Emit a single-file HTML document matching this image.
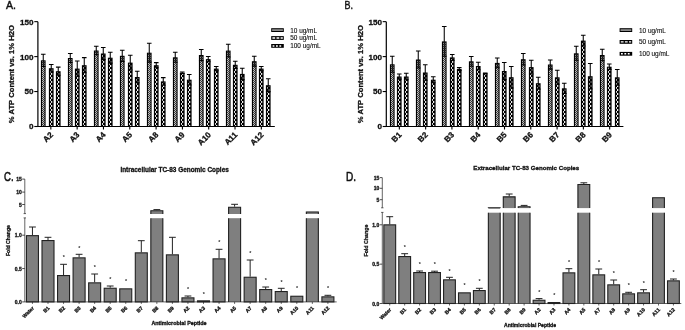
<!DOCTYPE html>
<html><head><meta charset="utf-8"><title>Figure</title>
<style>html,body{margin:0;padding:0;background:#fff}svg{display:block;filter:blur(0.35px)}text{font-family:'Liberation Sans', Arial, sans-serif;fill:#111}text[font-weight=bold]{stroke:#111;stroke-width:0.3px}</style>
</head><body>
<svg width="685" height="330" viewBox="0 0 685 330">
<defs>
<pattern id="pa" patternUnits="userSpaceOnUse" x="1.1" y="0.5" width="2" height="2"><rect width="2" height="2" fill="#3a3a3a"/><rect x="0" y="0" width="1" height="1" fill="#bdbdbd"/><rect x="1" y="1" width="1" height="1" fill="#bdbdbd"/></pattern>
<pattern id="pb" patternUnits="userSpaceOnUse" x="1.1" y="0.5" width="3" height="4"><rect width="3" height="4" fill="#000"/><rect x="0" y="0" width="1" height="1.9" fill="#e4e4e4"/><rect x="1" y="2" width="1.5" height="1.9" fill="#e4e4e4"/></pattern>
<pattern id="pc" patternUnits="userSpaceOnUse" x="1.1" y="0.5" width="3" height="4"><rect width="3" height="4" fill="#000"/><rect x="0" y="0" width="1" height="1.8" fill="#dcdcdc"/><rect x="1" y="2" width="1.5" height="2" fill="#f4f4f4"/></pattern>
</defs>
<rect width="685" height="330" fill="#fff"/>
<g transform="translate(40.9,126.5)"><rect x="0" y="-66.2" width="4.7" height="66.2" fill="#000"/><rect x="1.1" y="-65.2" width="2.5" height="65.2" fill="url(#pa)"/></g>
<path d="M43.25 54.2V66.4M40.95 54.2H45.55M40.95 66.4H45.55" stroke="#000" stroke-width="1.05" fill="none"/>
<g transform="translate(48.9,126.5)"><rect x="0" y="-58.3" width="4.7" height="58.3" fill="#000"/><rect x="1.1" y="-57.3" width="2.5" height="57.3" fill="url(#pb)"/></g>
<path d="M51.25 64.5V71.9M48.95 64.5H53.55M48.95 71.9H53.55" stroke="#000" stroke-width="1.05" fill="none"/>
<g transform="translate(55.9,126.5)"><rect x="0" y="-55.3" width="4.7" height="55.3" fill="#000"/><rect x="1.1" y="-54.3" width="2.5" height="54.3" fill="url(#pc)"/></g>
<path d="M58.25 67.1V75.3M55.95 67.1H60.55M55.95 75.3H60.55" stroke="#000" stroke-width="1.05" fill="none"/>
<g transform="translate(67.9,126.5)"><rect x="0" y="-68.5" width="4.7" height="68.5" fill="#000"/><rect x="1.1" y="-67.5" width="2.5" height="67.5" fill="url(#pa)"/></g>
<path d="M70.25 53.5V62.5M67.95 53.5H72.55M67.95 62.5H72.55" stroke="#000" stroke-width="1.05" fill="none"/>
<g transform="translate(74.9,126.5)"><rect x="0" y="-57.9" width="4.7" height="57.9" fill="#000"/><rect x="1.1" y="-56.9" width="2.5" height="56.9" fill="url(#pb)"/></g>
<path d="M77.25 61V76.2M74.95 61H79.55M74.95 76.2H79.55" stroke="#000" stroke-width="1.05" fill="none"/>
<g transform="translate(81.9,126.5)"><rect x="0" y="-61.3" width="4.7" height="61.3" fill="#000"/><rect x="1.1" y="-60.3" width="2.5" height="60.3" fill="url(#pc)"/></g>
<path d="M84.25 57.6V72.8M81.95 57.6H86.55M81.95 72.8H86.55" stroke="#000" stroke-width="1.05" fill="none"/>
<g transform="translate(93.9,126.5)"><rect x="0" y="-76" width="4.7" height="76" fill="#000"/><rect x="1.1" y="-75" width="2.5" height="75" fill="url(#pa)"/></g>
<path d="M96.25 46.2V54.8M93.95 46.2H98.55M93.95 54.8H98.55" stroke="#000" stroke-width="1.05" fill="none"/>
<g transform="translate(100.9,126.5)"><rect x="0" y="-73" width="4.7" height="73" fill="#000"/><rect x="1.1" y="-72" width="2.5" height="72" fill="url(#pb)"/></g>
<path d="M103.25 47.4V59.6M100.95 47.4H105.55M100.95 59.6H105.55" stroke="#000" stroke-width="1.05" fill="none"/>
<g transform="translate(107.9,126.5)"><rect x="0" y="-68.8" width="4.7" height="68.8" fill="#000"/><rect x="1.1" y="-67.8" width="2.5" height="67.8" fill="url(#pc)"/></g>
<path d="M110.25 52.3V63.1M107.95 52.3H112.55M107.95 63.1H112.55" stroke="#000" stroke-width="1.05" fill="none"/>
<g transform="translate(119.9,126.5)"><rect x="0" y="-70.7" width="4.7" height="70.7" fill="#000"/><rect x="1.1" y="-69.7" width="2.5" height="69.7" fill="url(#pa)"/></g>
<path d="M122.25 50.2V61.4M119.95 50.2H124.55M119.95 61.4H124.55" stroke="#000" stroke-width="1.05" fill="none"/>
<g transform="translate(127.9,126.5)"><rect x="0" y="-63.9" width="4.7" height="63.9" fill="#000"/><rect x="1.1" y="-62.9" width="2.5" height="62.9" fill="url(#pb)"/></g>
<path d="M130.25 55.3V69.9M127.95 55.3H132.55M127.95 69.9H132.55" stroke="#000" stroke-width="1.05" fill="none"/>
<g transform="translate(134.9,126.5)"><rect x="0" y="-49.5" width="4.7" height="49.5" fill="#000"/><rect x="1.1" y="-48.5" width="2.5" height="48.5" fill="url(#pc)"/></g>
<path d="M137.25 71.3V82.7M134.95 71.3H139.55M134.95 82.7H139.55" stroke="#000" stroke-width="1.05" fill="none"/>
<g transform="translate(146.9,126.5)"><rect x="0" y="-73.8" width="4.7" height="73.8" fill="#000"/><rect x="1.1" y="-72.8" width="2.5" height="72.8" fill="url(#pa)"/></g>
<path d="M149.25 43.3V62.1M146.95 43.3H151.55M146.95 62.1H151.55" stroke="#000" stroke-width="1.05" fill="none"/>
<g transform="translate(153.9,126.5)"><rect x="0" y="-61.3" width="4.7" height="61.3" fill="#000"/><rect x="1.1" y="-60.3" width="2.5" height="60.3" fill="url(#pb)"/></g>
<path d="M156.25 62.6V67.8M153.95 62.6H158.55M153.95 67.8H158.55" stroke="#000" stroke-width="1.05" fill="none"/>
<g transform="translate(160.9,126.5)"><rect x="0" y="-45.1" width="4.7" height="45.1" fill="#000"/><rect x="1.1" y="-44.1" width="2.5" height="44.1" fill="url(#pc)"/></g>
<path d="M163.25 77.6V85.2M160.95 77.6H165.55M160.95 85.2H165.55" stroke="#000" stroke-width="1.05" fill="none"/>
<g transform="translate(172.9,126.5)"><rect x="0" y="-69.2" width="4.7" height="69.2" fill="#000"/><rect x="1.1" y="-68.2" width="2.5" height="68.2" fill="url(#pa)"/></g>
<path d="M175.25 52.3V62.3M172.95 52.3H177.55M172.95 62.3H177.55" stroke="#000" stroke-width="1.05" fill="none"/>
<g transform="translate(179.9,126.5)"><rect x="0" y="-53.8" width="4.7" height="53.8" fill="#000"/><rect x="1.1" y="-52.8" width="2.5" height="52.8" fill="url(#pb)"/></g>
<path d="M182.25 71.9V73.5M179.95 71.9H184.55M179.95 73.5H184.55" stroke="#000" stroke-width="1.05" fill="none"/>
<g transform="translate(186.9,126.5)"><rect x="0" y="-46.8" width="4.7" height="46.8" fill="#000"/><rect x="1.1" y="-45.8" width="2.5" height="45.8" fill="url(#pc)"/></g>
<path d="M189.25 74.4V85M186.95 74.4H191.55M186.95 85H191.55" stroke="#000" stroke-width="1.05" fill="none"/>
<g transform="translate(198.9,126.5)"><rect x="0" y="-71.5" width="4.7" height="71.5" fill="#000"/><rect x="1.1" y="-70.5" width="2.5" height="70.5" fill="url(#pa)"/></g>
<path d="M201.25 49.4V60.6M198.95 49.4H203.55M198.95 60.6H203.55" stroke="#000" stroke-width="1.05" fill="none"/>
<g transform="translate(205.9,126.5)"><rect x="0" y="-67.4" width="4.7" height="67.4" fill="#000"/><rect x="1.1" y="-66.4" width="2.5" height="66.4" fill="url(#pb)"/></g>
<path d="M208.25 56.5V61.7M205.95 56.5H210.55M205.95 61.7H210.55" stroke="#000" stroke-width="1.05" fill="none"/>
<g transform="translate(213.9,126.5)"><rect x="0" y="-57.9" width="4.7" height="57.9" fill="#000"/><rect x="1.1" y="-56.9" width="2.5" height="56.9" fill="url(#pc)"/></g>
<path d="M216.25 66.4V70.8M213.95 66.4H218.55M213.95 70.8H218.55" stroke="#000" stroke-width="1.05" fill="none"/>
<g transform="translate(225.9,126.5)"><rect x="0" y="-75.9" width="4.7" height="75.9" fill="#000"/><rect x="1.1" y="-74.9" width="2.5" height="74.9" fill="url(#pa)"/></g>
<path d="M228.25 44.2V57M225.95 44.2H230.55M225.95 57H230.55" stroke="#000" stroke-width="1.05" fill="none"/>
<g transform="translate(232.9,126.5)"><rect x="0" y="-61.7" width="4.7" height="61.7" fill="#000"/><rect x="1.1" y="-60.7" width="2.5" height="60.7" fill="url(#pb)"/></g>
<path d="M235.25 61.2V68.4M232.95 61.2H237.55M232.95 68.4H237.55" stroke="#000" stroke-width="1.05" fill="none"/>
<g transform="translate(239.9,126.5)"><rect x="0" y="-52.6" width="4.7" height="52.6" fill="#000"/><rect x="1.1" y="-51.6" width="2.5" height="51.6" fill="url(#pc)"/></g>
<path d="M242.25 68.2V79.6M239.95 68.2H244.55M239.95 79.6H244.55" stroke="#000" stroke-width="1.05" fill="none"/>
<g transform="translate(251.9,126.5)"><rect x="0" y="-65.3" width="4.7" height="65.3" fill="#000"/><rect x="1.1" y="-64.3" width="2.5" height="64.3" fill="url(#pa)"/></g>
<path d="M254.25 56.3V66.1M251.95 56.3H256.55M251.95 66.1H256.55" stroke="#000" stroke-width="1.05" fill="none"/>
<g transform="translate(258.9,126.5)"><rect x="0" y="-57.9" width="4.7" height="57.9" fill="#000"/><rect x="1.1" y="-56.9" width="2.5" height="56.9" fill="url(#pb)"/></g>
<path d="M261.25 66.5V70.7M258.95 66.5H263.55M258.95 70.7H263.55" stroke="#000" stroke-width="1.05" fill="none"/>
<g transform="translate(265.9,126.5)"><rect x="0" y="-41.3" width="4.7" height="41.3" fill="#000"/><rect x="1.1" y="-40.3" width="2.5" height="40.3" fill="url(#pc)"/></g>
<path d="M268.25 78.8V91.6M265.95 78.8H270.55M265.95 91.6H270.55" stroke="#000" stroke-width="1.05" fill="none"/>
<path d="M37.9 21.65V126.5H274.8" stroke="#000" stroke-width="1.2" fill="none"/>
<path d="M34.3 126.5H37.9" stroke="#000" stroke-width="1.1"/>
<text x="33.6" y="129.4" text-anchor="end" font-size="8.1" font-weight="bold">0</text>
<path d="M34.3 91.55H37.9" stroke="#000" stroke-width="1.1"/>
<text x="33.6" y="94.45" text-anchor="end" font-size="8.1" font-weight="bold">50</text>
<path d="M34.3 56.6H37.9" stroke="#000" stroke-width="1.1"/>
<text x="33.6" y="59.5" text-anchor="end" font-size="8.1" font-weight="bold">100</text>
<path d="M34.3 21.65H37.9" stroke="#000" stroke-width="1.1"/>
<text x="33.6" y="24.55" text-anchor="end" font-size="8.1" font-weight="bold">150</text>
<path d="M50.85 126.5V129.5" stroke="#000" stroke-width="1.1"/>
<text transform="translate(53.65,135.4) rotate(-45)" text-anchor="end" font-size="8.1" font-weight="bold">A2</text>
<path d="M77.16 126.5V129.5" stroke="#000" stroke-width="1.1"/>
<text transform="translate(79.96,135.4) rotate(-45)" text-anchor="end" font-size="8.1" font-weight="bold">A3</text>
<path d="M103.47 126.5V129.5" stroke="#000" stroke-width="1.1"/>
<text transform="translate(106.27,135.4) rotate(-45)" text-anchor="end" font-size="8.1" font-weight="bold">A4</text>
<path d="M129.78 126.5V129.5" stroke="#000" stroke-width="1.1"/>
<text transform="translate(132.58,135.4) rotate(-45)" text-anchor="end" font-size="8.1" font-weight="bold">A5</text>
<path d="M156.09 126.5V129.5" stroke="#000" stroke-width="1.1"/>
<text transform="translate(158.89,135.4) rotate(-45)" text-anchor="end" font-size="8.1" font-weight="bold">A8</text>
<path d="M182.4 126.5V129.5" stroke="#000" stroke-width="1.1"/>
<text transform="translate(185.2,135.4) rotate(-45)" text-anchor="end" font-size="8.1" font-weight="bold">A9</text>
<path d="M208.71 126.5V129.5" stroke="#000" stroke-width="1.1"/>
<text transform="translate(211.51,135.4) rotate(-45)" text-anchor="end" font-size="8.1" font-weight="bold">A10</text>
<path d="M235.02 126.5V129.5" stroke="#000" stroke-width="1.1"/>
<text transform="translate(237.82,135.4) rotate(-45)" text-anchor="end" font-size="8.1" font-weight="bold">A11</text>
<path d="M261.33 126.5V129.5" stroke="#000" stroke-width="1.1"/>
<text transform="translate(264.13,135.4) rotate(-45)" text-anchor="end" font-size="8.1" font-weight="bold">A12</text>
<text transform="translate(14.2,74.1) rotate(-90)" text-anchor="middle" font-size="7.7" font-weight="bold" textLength="98.2" lengthAdjust="spacingAndGlyphs">% ATP Content vs. 1% H2O</text>
<rect x="271.2" y="28.2" width="12.6" height="3.8" fill="#000"/>
<rect x="272.1" y="29.2" width="10.8" height="1.8" fill="#8a8a8a"/>
<text x="290.2" y="32.5" font-size="6.45" stroke="#111" stroke-width="0.12">10 ug/mL</text>
<rect x="271.2" y="36.1" width="12.6" height="3.8" fill="#000"/>
<path d="M272.4 38H282.8" stroke="#fff" stroke-width="1.4" stroke-dasharray="2.8 1.3"/>
<text x="290.2" y="40.4" font-size="6.45" stroke="#111" stroke-width="0.12">50 ug/mL</text>
<rect x="271.2" y="44" width="12.6" height="3.8" fill="#000"/>
<path d="M272.6 45.9H282.8" stroke="#fff" stroke-width="1.5" stroke-dasharray="1.8 1.6"/>
<text x="290.2" y="48.3" font-size="6.45" stroke="#111" stroke-width="0.12">100 ug/mL</text>
<text transform="translate(6,8.8) scale(0.9,1)" font-size="11.8" stroke="#111" stroke-width="0.45">A.</text>
<g transform="translate(389.9,126.5)"><rect x="0" y="-62.2" width="4.7" height="62.2" fill="#000"/><rect x="1.1" y="-61.2" width="2.5" height="61.2" fill="url(#pa)"/></g>
<path d="M392.25 56.3V72.3M389.95 56.3H394.55M389.95 72.3H394.55" stroke="#000" stroke-width="1.05" fill="none"/>
<g transform="translate(396.9,126.5)"><rect x="0" y="-50" width="4.7" height="50" fill="#000"/><rect x="1.1" y="-49" width="2.5" height="49" fill="url(#pb)"/></g>
<path d="M399.25 73.9V79.1M396.95 73.9H401.55M396.95 79.1H401.55" stroke="#000" stroke-width="1.05" fill="none"/>
<g transform="translate(403.9,126.5)"><rect x="0" y="-50" width="4.7" height="50" fill="#000"/><rect x="1.1" y="-49" width="2.5" height="49" fill="url(#pc)"/></g>
<path d="M406.25 73.3V79.7M403.95 73.3H408.55M403.95 79.7H408.55" stroke="#000" stroke-width="1.05" fill="none"/>
<g transform="translate(415.9,126.5)"><rect x="0" y="-67" width="4.7" height="67" fill="#000"/><rect x="1.1" y="-66" width="2.5" height="66" fill="url(#pa)"/></g>
<path d="M418.25 51V68M415.95 51H420.55M415.95 68H420.55" stroke="#000" stroke-width="1.05" fill="none"/>
<g transform="translate(422.9,126.5)"><rect x="0" y="-54" width="4.7" height="54" fill="#000"/><rect x="1.1" y="-53" width="2.5" height="53" fill="url(#pb)"/></g>
<path d="M425.25 64.8V80.2M422.95 64.8H427.55M422.95 80.2H427.55" stroke="#000" stroke-width="1.05" fill="none"/>
<g transform="translate(430.9,126.5)"><rect x="0" y="-46.8" width="4.7" height="46.8" fill="#000"/><rect x="1.1" y="-45.8" width="2.5" height="45.8" fill="url(#pc)"/></g>
<path d="M433.25 76.7V82.7M430.95 76.7H435.55M430.95 82.7H435.55" stroke="#000" stroke-width="1.05" fill="none"/>
<g transform="translate(441.9,126.5)"><rect x="0" y="-85.1" width="4.7" height="85.1" fill="#000"/><rect x="1.1" y="-84.1" width="2.5" height="84.1" fill="url(#pa)"/></g>
<path d="M444.25 26.5V56.3M441.95 26.5H446.55M441.95 56.3H446.55" stroke="#000" stroke-width="1.05" fill="none"/>
<g transform="translate(449.9,126.5)"><rect x="0" y="-69.1" width="4.7" height="69.1" fill="#000"/><rect x="1.1" y="-68.1" width="2.5" height="68.1" fill="url(#pb)"/></g>
<path d="M452.25 54.4V60.4M449.95 54.4H454.55M449.95 60.4H454.55" stroke="#000" stroke-width="1.05" fill="none"/>
<g transform="translate(456.9,126.5)"><rect x="0" y="-57.5" width="4.7" height="57.5" fill="#000"/><rect x="1.1" y="-56.5" width="2.5" height="56.5" fill="url(#pc)"/></g>
<path d="M459.25 67.6V70.4M456.95 67.6H461.55M456.95 70.4H461.55" stroke="#000" stroke-width="1.05" fill="none"/>
<g transform="translate(468.9,126.5)"><rect x="0" y="-65.2" width="4.7" height="65.2" fill="#000"/><rect x="1.1" y="-64.2" width="2.5" height="64.2" fill="url(#pa)"/></g>
<path d="M471.25 56.4V66.2M468.95 56.4H473.55M468.95 66.2H473.55" stroke="#000" stroke-width="1.05" fill="none"/>
<g transform="translate(475.9,126.5)"><rect x="0" y="-60.5" width="4.7" height="60.5" fill="#000"/><rect x="1.1" y="-59.5" width="2.5" height="59.5" fill="url(#pb)"/></g>
<path d="M478.25 62.3V69.7M475.95 62.3H480.55M475.95 69.7H480.55" stroke="#000" stroke-width="1.05" fill="none"/>
<g transform="translate(482.9,126.5)"><rect x="0" y="-53.2" width="4.7" height="53.2" fill="#000"/><rect x="1.1" y="-52.2" width="2.5" height="52.2" fill="url(#pc)"/></g>
<path d="M485.25 72.9V73.7M482.95 72.9H487.55M482.95 73.7H487.55" stroke="#000" stroke-width="1.05" fill="none"/>
<g transform="translate(494.9,126.5)"><rect x="0" y="-63.6" width="4.7" height="63.6" fill="#000"/><rect x="1.1" y="-62.6" width="2.5" height="62.6" fill="url(#pa)"/></g>
<path d="M497.25 58V67.8M494.95 58H499.55M494.95 67.8H499.55" stroke="#000" stroke-width="1.05" fill="none"/>
<g transform="translate(501.9,126.5)"><rect x="0" y="-55.5" width="4.7" height="55.5" fill="#000"/><rect x="1.1" y="-54.5" width="2.5" height="54.5" fill="url(#pb)"/></g>
<path d="M504.25 62.4V79.6M501.95 62.4H506.55M501.95 79.6H506.55" stroke="#000" stroke-width="1.05" fill="none"/>
<g transform="translate(508.9,126.5)"><rect x="0" y="-49.3" width="4.7" height="49.3" fill="#000"/><rect x="1.1" y="-48.3" width="2.5" height="48.3" fill="url(#pc)"/></g>
<path d="M511.25 66.4V88M508.95 66.4H513.55M508.95 88H513.55" stroke="#000" stroke-width="1.05" fill="none"/>
<g transform="translate(520.9,126.5)"><rect x="0" y="-67.3" width="4.7" height="67.3" fill="#000"/><rect x="1.1" y="-66.3" width="2.5" height="66.3" fill="url(#pa)"/></g>
<path d="M523.25 53.5V64.9M520.95 53.5H525.55M520.95 64.9H525.55" stroke="#000" stroke-width="1.05" fill="none"/>
<g transform="translate(528.9,126.5)"><rect x="0" y="-59.4" width="4.7" height="59.4" fill="#000"/><rect x="1.1" y="-58.4" width="2.5" height="58.4" fill="url(#pb)"/></g>
<path d="M531.25 60.3V73.9M528.95 60.3H533.55M528.95 73.9H533.55" stroke="#000" stroke-width="1.05" fill="none"/>
<g transform="translate(535.9,126.5)"><rect x="0" y="-43.3" width="4.7" height="43.3" fill="#000"/><rect x="1.1" y="-42.3" width="2.5" height="42.3" fill="url(#pc)"/></g>
<path d="M538.25 77.3V89.1M535.95 77.3H540.55M535.95 89.1H540.55" stroke="#000" stroke-width="1.05" fill="none"/>
<g transform="translate(547.9,126.5)"><rect x="0" y="-62" width="4.7" height="62" fill="#000"/><rect x="1.1" y="-61" width="2.5" height="61" fill="url(#pa)"/></g>
<path d="M550.25 59.9V69.1M547.95 59.9H552.55M547.95 69.1H552.55" stroke="#000" stroke-width="1.05" fill="none"/>
<g transform="translate(554.9,126.5)"><rect x="0" y="-49.2" width="4.7" height="49.2" fill="#000"/><rect x="1.1" y="-48.2" width="2.5" height="48.2" fill="url(#pb)"/></g>
<path d="M557.25 70.3V84.3M554.95 70.3H559.55M554.95 84.3H559.55" stroke="#000" stroke-width="1.05" fill="none"/>
<g transform="translate(561.9,126.5)"><rect x="0" y="-38.2" width="4.7" height="38.2" fill="#000"/><rect x="1.1" y="-37.2" width="2.5" height="37.2" fill="url(#pc)"/></g>
<path d="M564.25 83.2V93.4M561.95 83.2H566.55M561.95 93.4H566.55" stroke="#000" stroke-width="1.05" fill="none"/>
<g transform="translate(573.9,126.5)"><rect x="0" y="-73.2" width="4.7" height="73.2" fill="#000"/><rect x="1.1" y="-72.2" width="2.5" height="72.2" fill="url(#pa)"/></g>
<path d="M576.25 46.3V60.3M573.95 46.3H578.55M573.95 60.3H578.55" stroke="#000" stroke-width="1.05" fill="none"/>
<g transform="translate(580.9,126.5)"><rect x="0" y="-85.9" width="4.7" height="85.9" fill="#000"/><rect x="1.1" y="-84.9" width="2.5" height="84.9" fill="url(#pb)"/></g>
<path d="M583.25 35.3V45.9M580.95 35.3H585.55M580.95 45.9H585.55" stroke="#000" stroke-width="1.05" fill="none"/>
<g transform="translate(587.9,126.5)"><rect x="0" y="-50.3" width="4.7" height="50.3" fill="#000"/><rect x="1.1" y="-49.3" width="2.5" height="49.3" fill="url(#pc)"/></g>
<path d="M590.25 63.5V88.9M587.95 63.5H592.55M587.95 88.9H592.55" stroke="#000" stroke-width="1.05" fill="none"/>
<g transform="translate(599.9,126.5)"><rect x="0" y="-71.5" width="4.7" height="71.5" fill="#000"/><rect x="1.1" y="-70.5" width="2.5" height="70.5" fill="url(#pa)"/></g>
<path d="M602.25 49.3V60.7M599.95 49.3H604.55M599.95 60.7H604.55" stroke="#000" stroke-width="1.05" fill="none"/>
<g transform="translate(606.9,126.5)"><rect x="0" y="-59.8" width="4.7" height="59.8" fill="#000"/><rect x="1.1" y="-58.8" width="2.5" height="58.8" fill="url(#pb)"/></g>
<path d="M609.25 63.9V69.5M606.95 63.9H611.55M606.95 69.5H611.55" stroke="#000" stroke-width="1.05" fill="none"/>
<g transform="translate(614.9,126.5)"><rect x="0" y="-49.2" width="4.7" height="49.2" fill="#000"/><rect x="1.1" y="-48.2" width="2.5" height="48.2" fill="url(#pc)"/></g>
<path d="M617.25 69.4V85.2M614.95 69.4H619.55M614.95 85.2H619.55" stroke="#000" stroke-width="1.05" fill="none"/>
<path d="M386.3 21.65V126.5H623.4" stroke="#000" stroke-width="1.2" fill="none"/>
<path d="M382.7 126.5H386.3" stroke="#000" stroke-width="1.1"/>
<text x="382" y="129.4" text-anchor="end" font-size="8.1" font-weight="bold">0</text>
<path d="M382.7 91.55H386.3" stroke="#000" stroke-width="1.1"/>
<text x="382" y="94.45" text-anchor="end" font-size="8.1" font-weight="bold">50</text>
<path d="M382.7 56.6H386.3" stroke="#000" stroke-width="1.1"/>
<text x="382" y="59.5" text-anchor="end" font-size="8.1" font-weight="bold">100</text>
<path d="M382.7 21.65H386.3" stroke="#000" stroke-width="1.1"/>
<text x="382" y="24.55" text-anchor="end" font-size="8.1" font-weight="bold">150</text>
<path d="M399.35 126.5V129.5" stroke="#000" stroke-width="1.1"/>
<text transform="translate(402.15,135.4) rotate(-45)" text-anchor="end" font-size="8.1" font-weight="bold">B1</text>
<path d="M425.64 126.5V129.5" stroke="#000" stroke-width="1.1"/>
<text transform="translate(428.44,135.4) rotate(-45)" text-anchor="end" font-size="8.1" font-weight="bold">B2</text>
<path d="M451.93 126.5V129.5" stroke="#000" stroke-width="1.1"/>
<text transform="translate(454.73,135.4) rotate(-45)" text-anchor="end" font-size="8.1" font-weight="bold">B3</text>
<path d="M478.22 126.5V129.5" stroke="#000" stroke-width="1.1"/>
<text transform="translate(481.02,135.4) rotate(-45)" text-anchor="end" font-size="8.1" font-weight="bold">B4</text>
<path d="M504.51 126.5V129.5" stroke="#000" stroke-width="1.1"/>
<text transform="translate(507.31,135.4) rotate(-45)" text-anchor="end" font-size="8.1" font-weight="bold">B5</text>
<path d="M530.8 126.5V129.5" stroke="#000" stroke-width="1.1"/>
<text transform="translate(533.6,135.4) rotate(-45)" text-anchor="end" font-size="8.1" font-weight="bold">B6</text>
<path d="M557.09 126.5V129.5" stroke="#000" stroke-width="1.1"/>
<text transform="translate(559.89,135.4) rotate(-45)" text-anchor="end" font-size="8.1" font-weight="bold">B7</text>
<path d="M583.38 126.5V129.5" stroke="#000" stroke-width="1.1"/>
<text transform="translate(586.18,135.4) rotate(-45)" text-anchor="end" font-size="8.1" font-weight="bold">B8</text>
<path d="M609.67 126.5V129.5" stroke="#000" stroke-width="1.1"/>
<text transform="translate(612.47,135.4) rotate(-45)" text-anchor="end" font-size="8.1" font-weight="bold">B9</text>
<text transform="translate(363.4,74.1) rotate(-90)" text-anchor="middle" font-size="7.7" font-weight="bold" textLength="98.2" lengthAdjust="spacingAndGlyphs">% ATP Content vs. 1% H2O</text>
<rect x="619.6" y="28.2" width="12.6" height="3.8" fill="#000"/>
<rect x="620.5" y="29.2" width="10.8" height="1.8" fill="#8a8a8a"/>
<text x="639" y="32.5" font-size="6.45" stroke="#111" stroke-width="0.12">10 ug/mL</text>
<rect x="619.6" y="40" width="12.6" height="3.8" fill="#000"/>
<path d="M620.8 41.9H631.2" stroke="#fff" stroke-width="1.4" stroke-dasharray="2.8 1.3"/>
<text x="639" y="44.3" font-size="6.45" stroke="#111" stroke-width="0.12">50 ug/mL</text>
<rect x="619.6" y="51.9" width="12.6" height="3.8" fill="#000"/>
<path d="M621 53.8H631.2" stroke="#fff" stroke-width="1.5" stroke-dasharray="1.8 1.6"/>
<text x="639" y="56.2" font-size="6.45" stroke="#111" stroke-width="0.12">100 ug/mL</text>
<text transform="translate(344.4,8.8) scale(0.76,1)" font-size="11.8" stroke="#111" stroke-width="0.45">B.</text>
<rect x="26.45" y="235.65" width="12" height="66.25" fill="#7f7f7f" stroke="#222" stroke-width="1.1"/>
<path d="M32.45 227V235.1M29.05 227H35.85" stroke="#222" stroke-width="1.0" fill="none"/>
<rect x="42" y="240.55" width="12" height="61.35" fill="#7f7f7f" stroke="#222" stroke-width="1.1"/>
<path d="M48 237.3V240M44.6 237.3H51.4" stroke="#222" stroke-width="1.0" fill="none"/>
<rect x="57.55" y="275.55" width="12" height="26.35" fill="#7f7f7f" stroke="#222" stroke-width="1.1"/>
<path d="M63.55 264.3V275M60.15 264.3H66.95" stroke="#222" stroke-width="1.0" fill="none"/>
<text x="63.75" y="259.4" text-anchor="middle" font-size="5.4" font-weight="bold" style="fill:#2a2a2a;stroke:none">*</text>
<rect x="73.1" y="257.85" width="12" height="44.05" fill="#7f7f7f" stroke="#222" stroke-width="1.1"/>
<path d="M79.1 254.3V257.3M75.7 254.3H82.5" stroke="#222" stroke-width="1.0" fill="none"/>
<text x="79.3" y="249.8" text-anchor="middle" font-size="5.4" font-weight="bold" style="fill:#2a2a2a;stroke:none">*</text>
<rect x="88.65" y="282.85" width="12" height="19.05" fill="#7f7f7f" stroke="#222" stroke-width="1.1"/>
<path d="M94.65 274V282.3M91.25 274H98.05" stroke="#222" stroke-width="1.0" fill="none"/>
<text x="94.85" y="269.2" text-anchor="middle" font-size="5.4" font-weight="bold" style="fill:#2a2a2a;stroke:none">*</text>
<rect x="104.2" y="288.25" width="12" height="13.65" fill="#7f7f7f" stroke="#222" stroke-width="1.1"/>
<path d="M110.2 286V287.7M106.8 286H113.6" stroke="#222" stroke-width="1.0" fill="none"/>
<text x="110.4" y="280.9" text-anchor="middle" font-size="5.4" font-weight="bold" style="fill:#2a2a2a;stroke:none">*</text>
<rect x="119.75" y="288.85" width="12" height="13.05" fill="#7f7f7f" stroke="#222" stroke-width="1.1"/>
<text x="125.95" y="282.5" text-anchor="middle" font-size="5.4" font-weight="bold" style="fill:#2a2a2a;stroke:none">*</text>
<rect x="135.3" y="252.85" width="12" height="49.05" fill="#7f7f7f" stroke="#222" stroke-width="1.1"/>
<path d="M141.3 240.7V252.3M137.9 240.7H144.7" stroke="#222" stroke-width="1.0" fill="none"/>
<rect x="150.7" y="218.2" width="12.3" height="83.7" fill="#7f7f7f"/>
<path d="M150.85 218.2V301.9M162.85 218.2V301.9" stroke="#222" stroke-width="1.1"/>
<rect x="150.7" y="210.6" width="12.3" height="3.4" fill="#7f7f7f"/>
<path d="M150.85 214V210.75H162.85V214" stroke="#222" stroke-width="1.1" fill="none"/>
<path d="M156.85 209.6V210.2M153.45 209.6H160.25" stroke="#222" stroke-width="1.0" fill="none"/>
<rect x="166.4" y="254.85" width="12" height="47.05" fill="#7f7f7f" stroke="#222" stroke-width="1.1"/>
<path d="M172.4 237.3V254.3M169 237.3H175.8" stroke="#222" stroke-width="1.0" fill="none"/>
<rect x="181.95" y="297.85" width="12" height="4.05" fill="#7f7f7f" stroke="#222" stroke-width="1.1"/>
<path d="M187.95 296V297.3M184.55 296H191.35" stroke="#222" stroke-width="1.0" fill="none"/>
<text x="188.15" y="290.9" text-anchor="middle" font-size="5.4" font-weight="bold" style="fill:#2a2a2a;stroke:none">*</text>
<rect x="197.5" y="300.85" width="12" height="1.05" fill="#7f7f7f" stroke="#222" stroke-width="1.1"/>
<text x="203.7" y="295.5" text-anchor="middle" font-size="5.4" font-weight="bold" style="fill:#2a2a2a;stroke:none">*</text>
<rect x="213.05" y="258.85" width="12" height="43.05" fill="#7f7f7f" stroke="#222" stroke-width="1.1"/>
<path d="M219.05 249.3V258.3M215.65 249.3H222.45" stroke="#222" stroke-width="1.0" fill="none"/>
<text x="219.25" y="244.2" text-anchor="middle" font-size="5.4" font-weight="bold" style="fill:#2a2a2a;stroke:none">*</text>
<rect x="228.45" y="218.2" width="12.3" height="83.7" fill="#7f7f7f"/>
<path d="M228.6 218.2V301.9M240.6 218.2V301.9" stroke="#222" stroke-width="1.1"/>
<rect x="228.45" y="207.1" width="12.3" height="6.9" fill="#7f7f7f"/>
<path d="M228.6 214V207.25H240.6V214" stroke="#222" stroke-width="1.1" fill="none"/>
<path d="M234.6 204.3V206.7M231.2 204.3H238" stroke="#222" stroke-width="1.0" fill="none"/>
<rect x="244.15" y="277.25" width="12" height="24.65" fill="#7f7f7f" stroke="#222" stroke-width="1.1"/>
<path d="M250.15 260V276.7M246.75 260H253.55" stroke="#222" stroke-width="1.0" fill="none"/>
<text x="250.35" y="254.9" text-anchor="middle" font-size="5.4" font-weight="bold" style="fill:#2a2a2a;stroke:none">*</text>
<rect x="259.7" y="289.55" width="12" height="12.35" fill="#7f7f7f" stroke="#222" stroke-width="1.1"/>
<path d="M265.7 287V289M262.3 287H269.1" stroke="#222" stroke-width="1.0" fill="none"/>
<text x="265.9" y="282.2" text-anchor="middle" font-size="5.4" font-weight="bold" style="fill:#2a2a2a;stroke:none">*</text>
<rect x="275.25" y="291.55" width="12" height="10.35" fill="#7f7f7f" stroke="#222" stroke-width="1.1"/>
<path d="M281.25 288.3V291M277.85 288.3H284.65" stroke="#222" stroke-width="1.0" fill="none"/>
<text x="281.45" y="283.5" text-anchor="middle" font-size="5.4" font-weight="bold" style="fill:#2a2a2a;stroke:none">*</text>
<rect x="290.8" y="296.25" width="12" height="5.65" fill="#7f7f7f" stroke="#222" stroke-width="1.1"/>
<text x="297" y="290.2" text-anchor="middle" font-size="5.4" font-weight="bold" style="fill:#2a2a2a;stroke:none">*</text>
<rect x="306.2" y="218.2" width="12.3" height="83.7" fill="#7f7f7f"/>
<path d="M306.35 218.2V301.9M318.35 218.2V301.9" stroke="#222" stroke-width="1.1"/>
<rect x="306.2" y="211.8" width="12.3" height="2.2" fill="#7f7f7f"/>
<path d="M306.35 214V211.95H318.35V214" stroke="#222" stroke-width="1.1" fill="none"/>
<rect x="321.9" y="296.85" width="12" height="5.05" fill="#7f7f7f" stroke="#222" stroke-width="1.1"/>
<path d="M327.9 295.3V296.3M324.5 295.3H331.3" stroke="#222" stroke-width="1.0" fill="none"/>
<text x="328.1" y="290.2" text-anchor="middle" font-size="5.4" font-weight="bold" style="fill:#2a2a2a;stroke:none">*</text>
<path d="M24.8 179.1V213.6M24.8 217.9V301.9H336.7" stroke="#222" stroke-width="0.7" fill="none"/>
<path d="M23.6 213.6H26M23.6 217.9H26" stroke="#222" stroke-width="0.7"/>
<path d="M22.2 204.5H24.8" stroke="#222" stroke-width="0.8"/>
<text x="21.7" y="206.6" text-anchor="end" font-size="5" font-weight="bold">5</text>
<path d="M22.2 192.1H24.8" stroke="#222" stroke-width="0.8"/>
<text x="21.7" y="194.2" text-anchor="end" font-size="5" font-weight="bold">10</text>
<path d="M22.2 179.1H24.8" stroke="#222" stroke-width="0.8"/>
<text x="21.7" y="181.2" text-anchor="end" font-size="5" font-weight="bold">15</text>
<path d="M22.2 301.9H24.8" stroke="#222" stroke-width="0.8"/>
<text x="21.7" y="304" text-anchor="end" font-size="5" font-weight="bold">0.0</text>
<path d="M22.2 268.55H24.8" stroke="#222" stroke-width="0.8"/>
<text x="21.7" y="270.65" text-anchor="end" font-size="5" font-weight="bold">0.5</text>
<path d="M22.2 235.2H24.8" stroke="#222" stroke-width="0.8"/>
<text x="21.7" y="237.3" text-anchor="end" font-size="5" font-weight="bold">1.0</text>
<path d="M32.45 301.9V303.9" stroke="#222" stroke-width="0.7"/>
<text transform="translate(34.35,308.5) rotate(-45)" text-anchor="end" font-size="5.1" font-weight="bold">Water</text>
<path d="M48 301.9V303.9" stroke="#222" stroke-width="0.7"/>
<text transform="translate(49.9,308.5) rotate(-45)" text-anchor="end" font-size="5.1" font-weight="bold">B1</text>
<path d="M63.55 301.9V303.9" stroke="#222" stroke-width="0.7"/>
<text transform="translate(65.45,308.5) rotate(-45)" text-anchor="end" font-size="5.1" font-weight="bold">B2</text>
<path d="M79.1 301.9V303.9" stroke="#222" stroke-width="0.7"/>
<text transform="translate(81,308.5) rotate(-45)" text-anchor="end" font-size="5.1" font-weight="bold">B3</text>
<path d="M94.65 301.9V303.9" stroke="#222" stroke-width="0.7"/>
<text transform="translate(96.55,308.5) rotate(-45)" text-anchor="end" font-size="5.1" font-weight="bold">B4</text>
<path d="M110.2 301.9V303.9" stroke="#222" stroke-width="0.7"/>
<text transform="translate(112.1,308.5) rotate(-45)" text-anchor="end" font-size="5.1" font-weight="bold">B5</text>
<path d="M125.75 301.9V303.9" stroke="#222" stroke-width="0.7"/>
<text transform="translate(127.65,308.5) rotate(-45)" text-anchor="end" font-size="5.1" font-weight="bold">B6</text>
<path d="M141.3 301.9V303.9" stroke="#222" stroke-width="0.7"/>
<text transform="translate(143.2,308.5) rotate(-45)" text-anchor="end" font-size="5.1" font-weight="bold">B7</text>
<path d="M156.85 301.9V303.9" stroke="#222" stroke-width="0.7"/>
<text transform="translate(158.75,308.5) rotate(-45)" text-anchor="end" font-size="5.1" font-weight="bold">B8</text>
<path d="M172.4 301.9V303.9" stroke="#222" stroke-width="0.7"/>
<text transform="translate(174.3,308.5) rotate(-45)" text-anchor="end" font-size="5.1" font-weight="bold">B9</text>
<path d="M187.95 301.9V303.9" stroke="#222" stroke-width="0.7"/>
<text transform="translate(189.85,308.5) rotate(-45)" text-anchor="end" font-size="5.1" font-weight="bold">A2</text>
<path d="M203.5 301.9V303.9" stroke="#222" stroke-width="0.7"/>
<text transform="translate(205.4,308.5) rotate(-45)" text-anchor="end" font-size="5.1" font-weight="bold">A3</text>
<path d="M219.05 301.9V303.9" stroke="#222" stroke-width="0.7"/>
<text transform="translate(220.95,308.5) rotate(-45)" text-anchor="end" font-size="5.1" font-weight="bold">A4</text>
<path d="M234.6 301.9V303.9" stroke="#222" stroke-width="0.7"/>
<text transform="translate(236.5,308.5) rotate(-45)" text-anchor="end" font-size="5.1" font-weight="bold">A5</text>
<path d="M250.15 301.9V303.9" stroke="#222" stroke-width="0.7"/>
<text transform="translate(252.05,308.5) rotate(-45)" text-anchor="end" font-size="5.1" font-weight="bold">A7</text>
<path d="M265.7 301.9V303.9" stroke="#222" stroke-width="0.7"/>
<text transform="translate(267.6,308.5) rotate(-45)" text-anchor="end" font-size="5.1" font-weight="bold">A8</text>
<path d="M281.25 301.9V303.9" stroke="#222" stroke-width="0.7"/>
<text transform="translate(283.15,308.5) rotate(-45)" text-anchor="end" font-size="5.1" font-weight="bold">A9</text>
<path d="M296.8 301.9V303.9" stroke="#222" stroke-width="0.7"/>
<text transform="translate(298.7,308.5) rotate(-45)" text-anchor="end" font-size="5.1" font-weight="bold">A10</text>
<path d="M312.35 301.9V303.9" stroke="#222" stroke-width="0.7"/>
<text transform="translate(314.25,308.5) rotate(-45)" text-anchor="end" font-size="5.1" font-weight="bold">A11</text>
<path d="M327.9 301.9V303.9" stroke="#222" stroke-width="0.7"/>
<text transform="translate(329.8,308.5) rotate(-45)" text-anchor="end" font-size="5.1" font-weight="bold">A12</text>
<text x="174.6" y="171.8" text-anchor="middle" font-size="6.35" font-weight="bold" textLength="108.4" lengthAdjust="spacingAndGlyphs">Intracellular TC-83 Genomic Copies</text>
<text transform="translate(10.2,240.6) rotate(-90)" text-anchor="middle" font-size="5.12" font-weight="bold" textLength="31" lengthAdjust="spacingAndGlyphs">Fold Change</text>
<text x="178.95" y="324.6" text-anchor="middle" font-size="5.36" font-weight="bold" textLength="55.1" lengthAdjust="spacingAndGlyphs">Antimicrobial Peptide</text>
<text transform="translate(4,180.7) scale(0.76,1)" font-size="12.6" stroke="#111" stroke-width="0.55">C.</text>
<rect x="383.85" y="224.85" width="11.8" height="78.65" fill="#7f7f7f" stroke="#222" stroke-width="1.1"/>
<path d="M389.75 216.7V224.3M386.35 216.7H393.15" stroke="#222" stroke-width="1.0" fill="none"/>
<rect x="398.78" y="256.55" width="11.8" height="46.95" fill="#7f7f7f" stroke="#222" stroke-width="1.1"/>
<path d="M404.68 253.7V256M401.28 253.7H408.08" stroke="#222" stroke-width="1.0" fill="none"/>
<text x="404.88" y="248.5" text-anchor="middle" font-size="5.4" font-weight="bold" style="fill:#2a2a2a;stroke:none">*</text>
<rect x="413.71" y="272.55" width="11.8" height="30.95" fill="#7f7f7f" stroke="#222" stroke-width="1.1"/>
<path d="M419.61 271V272M416.21 271H423.01" stroke="#222" stroke-width="1.0" fill="none"/>
<text x="419.81" y="265.9" text-anchor="middle" font-size="5.4" font-weight="bold" style="fill:#2a2a2a;stroke:none">*</text>
<rect x="428.64" y="272.55" width="11.8" height="30.95" fill="#7f7f7f" stroke="#222" stroke-width="1.1"/>
<path d="M434.54 271.2V272M431.14 271.2H437.94" stroke="#222" stroke-width="1.0" fill="none"/>
<text x="434.74" y="265.9" text-anchor="middle" font-size="5.4" font-weight="bold" style="fill:#2a2a2a;stroke:none">*</text>
<rect x="443.57" y="279.85" width="11.8" height="23.65" fill="#7f7f7f" stroke="#222" stroke-width="1.1"/>
<path d="M449.47 277.3V279.3M446.07 277.3H452.87" stroke="#222" stroke-width="1.0" fill="none"/>
<text x="449.67" y="272.5" text-anchor="middle" font-size="5.4" font-weight="bold" style="fill:#2a2a2a;stroke:none">*</text>
<rect x="458.5" y="292.85" width="11.8" height="10.65" fill="#7f7f7f" stroke="#222" stroke-width="1.1"/>
<text x="464.6" y="286.5" text-anchor="middle" font-size="5.4" font-weight="bold" style="fill:#2a2a2a;stroke:none">*</text>
<rect x="473.43" y="290.55" width="11.8" height="12.95" fill="#7f7f7f" stroke="#222" stroke-width="1.1"/>
<path d="M479.33 288.3V290M475.93 288.3H482.73" stroke="#222" stroke-width="1.0" fill="none"/>
<text x="479.53" y="283.2" text-anchor="middle" font-size="5.4" font-weight="bold" style="fill:#2a2a2a;stroke:none">*</text>
<rect x="488.21" y="212.7" width="12.1" height="90.8" fill="#7f7f7f"/>
<path d="M488.36 212.7V303.5M500.16 212.7V303.5" stroke="#222" stroke-width="1.1"/>
<rect x="488.21" y="207.7" width="12.1" height="0.4" fill="#7f7f7f"/>
<path d="M488.36 208.1V207.85H500.16V208.1" stroke="#222" stroke-width="1.1" fill="none"/>
<rect x="503.14" y="212.7" width="12.1" height="90.8" fill="#7f7f7f"/>
<path d="M503.29 212.7V303.5M515.09 212.7V303.5" stroke="#222" stroke-width="1.1"/>
<rect x="503.14" y="196.7" width="12.1" height="11.4" fill="#7f7f7f"/>
<path d="M503.29 208.1V196.85H515.09V208.1" stroke="#222" stroke-width="1.1" fill="none"/>
<path d="M509.19 194V196.3M505.79 194H512.59" stroke="#222" stroke-width="1.0" fill="none"/>
<rect x="518.07" y="212.7" width="12.1" height="90.8" fill="#7f7f7f"/>
<path d="M518.22 212.7V303.5M530.02 212.7V303.5" stroke="#222" stroke-width="1.1"/>
<rect x="518.07" y="206.6" width="12.1" height="1.5" fill="#7f7f7f"/>
<path d="M518.22 208.1V206.75H530.02V208.1" stroke="#222" stroke-width="1.1" fill="none"/>
<path d="M524.12 205.4V206.2M520.72 205.4H527.52" stroke="#222" stroke-width="1.0" fill="none"/>
<rect x="533.15" y="300.25" width="11.8" height="3.25" fill="#7f7f7f" stroke="#222" stroke-width="1.1"/>
<path d="M539.05 298.6V299.7M535.65 298.6H542.45" stroke="#222" stroke-width="1.0" fill="none"/>
<text x="539.25" y="294.2" text-anchor="middle" font-size="5.4" font-weight="bold" style="fill:#2a2a2a;stroke:none">*</text>
<rect x="548.08" y="302.55" width="11.8" height="0.95" fill="#7f7f7f" stroke="#222" stroke-width="1.1"/>
<text x="554.18" y="296.5" text-anchor="middle" font-size="5.4" font-weight="bold" style="fill:#2a2a2a;stroke:none">*</text>
<rect x="563.01" y="272.85" width="11.8" height="30.65" fill="#7f7f7f" stroke="#222" stroke-width="1.1"/>
<path d="M568.91 268.7V272.3M565.51 268.7H572.31" stroke="#222" stroke-width="1.0" fill="none"/>
<text x="569.11" y="263.9" text-anchor="middle" font-size="5.4" font-weight="bold" style="fill:#2a2a2a;stroke:none">*</text>
<rect x="577.79" y="212.7" width="12.1" height="90.8" fill="#7f7f7f"/>
<path d="M577.94 212.7V303.5M589.74 212.7V303.5" stroke="#222" stroke-width="1.1"/>
<rect x="577.79" y="184.4" width="12.1" height="23.7" fill="#7f7f7f"/>
<path d="M577.94 208.1V184.55H589.74V208.1" stroke="#222" stroke-width="1.1" fill="none"/>
<path d="M583.84 182.8V184M580.44 182.8H587.24" stroke="#222" stroke-width="1.0" fill="none"/>
<rect x="592.87" y="274.85" width="11.8" height="28.65" fill="#7f7f7f" stroke="#222" stroke-width="1.1"/>
<path d="M598.77 269V274.3M595.37 269H602.17" stroke="#222" stroke-width="1.0" fill="none"/>
<text x="598.97" y="264.2" text-anchor="middle" font-size="5.4" font-weight="bold" style="fill:#2a2a2a;stroke:none">*</text>
<rect x="607.8" y="284.85" width="11.8" height="18.65" fill="#7f7f7f" stroke="#222" stroke-width="1.1"/>
<path d="M613.7 280V284.3M610.3 280H617.1" stroke="#222" stroke-width="1.0" fill="none"/>
<text x="613.9" y="274.9" text-anchor="middle" font-size="5.4" font-weight="bold" style="fill:#2a2a2a;stroke:none">*</text>
<rect x="622.73" y="293.85" width="11.8" height="9.65" fill="#7f7f7f" stroke="#222" stroke-width="1.1"/>
<path d="M628.63 292.3V293.3M625.23 292.3H632.03" stroke="#222" stroke-width="1.0" fill="none"/>
<text x="628.83" y="287.2" text-anchor="middle" font-size="5.4" font-weight="bold" style="fill:#2a2a2a;stroke:none">*</text>
<rect x="637.66" y="292.85" width="11.8" height="10.65" fill="#7f7f7f" stroke="#222" stroke-width="1.1"/>
<path d="M643.56 289.7V292.3M640.16 289.7H646.96" stroke="#222" stroke-width="1.0" fill="none"/>
<text x="643.76" y="284.5" text-anchor="middle" font-size="5.4" font-weight="bold" style="fill:#2a2a2a;stroke:none">*</text>
<rect x="652.44" y="212.7" width="12.1" height="90.8" fill="#7f7f7f"/>
<path d="M652.59 212.7V303.5M664.39 212.7V303.5" stroke="#222" stroke-width="1.1"/>
<rect x="652.44" y="197.6" width="12.1" height="10.5" fill="#7f7f7f"/>
<path d="M652.59 208.1V197.75H664.39V208.1" stroke="#222" stroke-width="1.1" fill="none"/>
<rect x="667.52" y="280.85" width="11.8" height="22.65" fill="#7f7f7f" stroke="#222" stroke-width="1.1"/>
<path d="M673.42 279V280.3M670.02 279H676.82" stroke="#222" stroke-width="1.0" fill="none"/>
<text x="673.62" y="273.9" text-anchor="middle" font-size="5.4" font-weight="bold" style="fill:#2a2a2a;stroke:none">*</text>
<path d="M382.3 177.7V207.8M382.3 212.4V303.5H681.3" stroke="#222" stroke-width="0.7" fill="none"/>
<path d="M381.1 207.8H383.5M381.1 212.4H383.5" stroke="#222" stroke-width="0.7"/>
<path d="M379.7 199.7H382.3" stroke="#222" stroke-width="0.8"/>
<text x="379.2" y="201.8" text-anchor="end" font-size="5" font-weight="bold">5</text>
<path d="M379.7 188.3H382.3" stroke="#222" stroke-width="0.8"/>
<text x="379.2" y="190.4" text-anchor="end" font-size="5" font-weight="bold">10</text>
<path d="M379.7 177.6H382.3" stroke="#222" stroke-width="0.8"/>
<text x="379.2" y="179.7" text-anchor="end" font-size="5" font-weight="bold">15</text>
<path d="M379.7 303.5H382.3" stroke="#222" stroke-width="0.8"/>
<text x="379.2" y="305.6" text-anchor="end" font-size="5" font-weight="bold">0.0</text>
<path d="M379.7 264.15H382.3" stroke="#222" stroke-width="0.8"/>
<text x="379.2" y="266.25" text-anchor="end" font-size="5" font-weight="bold">0.5</text>
<path d="M379.7 224.8H382.3" stroke="#222" stroke-width="0.8"/>
<text x="379.2" y="226.9" text-anchor="end" font-size="5" font-weight="bold">1.0</text>
<path d="M389.75 303.5V305.5" stroke="#222" stroke-width="0.7"/>
<text transform="translate(391.65,310.1) rotate(-45)" text-anchor="end" font-size="5.1" font-weight="bold">Water</text>
<path d="M404.68 303.5V305.5" stroke="#222" stroke-width="0.7"/>
<text transform="translate(406.58,310.1) rotate(-45)" text-anchor="end" font-size="5.1" font-weight="bold">B1</text>
<path d="M419.61 303.5V305.5" stroke="#222" stroke-width="0.7"/>
<text transform="translate(421.51,310.1) rotate(-45)" text-anchor="end" font-size="5.1" font-weight="bold">B2</text>
<path d="M434.54 303.5V305.5" stroke="#222" stroke-width="0.7"/>
<text transform="translate(436.44,310.1) rotate(-45)" text-anchor="end" font-size="5.1" font-weight="bold">B3</text>
<path d="M449.47 303.5V305.5" stroke="#222" stroke-width="0.7"/>
<text transform="translate(451.37,310.1) rotate(-45)" text-anchor="end" font-size="5.1" font-weight="bold">B4</text>
<path d="M464.4 303.5V305.5" stroke="#222" stroke-width="0.7"/>
<text transform="translate(466.3,310.1) rotate(-45)" text-anchor="end" font-size="5.1" font-weight="bold">B5</text>
<path d="M479.33 303.5V305.5" stroke="#222" stroke-width="0.7"/>
<text transform="translate(481.23,310.1) rotate(-45)" text-anchor="end" font-size="5.1" font-weight="bold">B6</text>
<path d="M494.26 303.5V305.5" stroke="#222" stroke-width="0.7"/>
<text transform="translate(496.16,310.1) rotate(-45)" text-anchor="end" font-size="5.1" font-weight="bold">B7</text>
<path d="M509.19 303.5V305.5" stroke="#222" stroke-width="0.7"/>
<text transform="translate(511.09,310.1) rotate(-45)" text-anchor="end" font-size="5.1" font-weight="bold">B8</text>
<path d="M524.12 303.5V305.5" stroke="#222" stroke-width="0.7"/>
<text transform="translate(526.02,310.1) rotate(-45)" text-anchor="end" font-size="5.1" font-weight="bold">B9</text>
<path d="M539.05 303.5V305.5" stroke="#222" stroke-width="0.7"/>
<text transform="translate(540.95,310.1) rotate(-45)" text-anchor="end" font-size="5.1" font-weight="bold">A2</text>
<path d="M553.98 303.5V305.5" stroke="#222" stroke-width="0.7"/>
<text transform="translate(555.88,310.1) rotate(-45)" text-anchor="end" font-size="5.1" font-weight="bold">A3</text>
<path d="M568.91 303.5V305.5" stroke="#222" stroke-width="0.7"/>
<text transform="translate(570.81,310.1) rotate(-45)" text-anchor="end" font-size="5.1" font-weight="bold">A4</text>
<path d="M583.84 303.5V305.5" stroke="#222" stroke-width="0.7"/>
<text transform="translate(585.74,310.1) rotate(-45)" text-anchor="end" font-size="5.1" font-weight="bold">A5</text>
<path d="M598.77 303.5V305.5" stroke="#222" stroke-width="0.7"/>
<text transform="translate(600.67,310.1) rotate(-45)" text-anchor="end" font-size="5.1" font-weight="bold">A7</text>
<path d="M613.7 303.5V305.5" stroke="#222" stroke-width="0.7"/>
<text transform="translate(615.6,310.1) rotate(-45)" text-anchor="end" font-size="5.1" font-weight="bold">A8</text>
<path d="M628.63 303.5V305.5" stroke="#222" stroke-width="0.7"/>
<text transform="translate(630.53,310.1) rotate(-45)" text-anchor="end" font-size="5.1" font-weight="bold">A9</text>
<path d="M643.56 303.5V305.5" stroke="#222" stroke-width="0.7"/>
<text transform="translate(645.46,310.1) rotate(-45)" text-anchor="end" font-size="5.1" font-weight="bold">A10</text>
<path d="M658.49 303.5V305.5" stroke="#222" stroke-width="0.7"/>
<text transform="translate(660.39,310.1) rotate(-45)" text-anchor="end" font-size="5.1" font-weight="bold">A11</text>
<path d="M673.42 303.5V305.5" stroke="#222" stroke-width="0.7"/>
<text transform="translate(675.32,310.1) rotate(-45)" text-anchor="end" font-size="5.1" font-weight="bold">A12</text>
<text x="526.25" y="169.7" text-anchor="middle" font-size="6.21" font-weight="bold" textLength="105.9" lengthAdjust="spacingAndGlyphs">Extracellular TC-83 Genomic Copies</text>
<text transform="translate(368.2,240.6) rotate(-90)" text-anchor="middle" font-size="5.28" font-weight="bold" textLength="32" lengthAdjust="spacingAndGlyphs">Fold Change</text>
<text x="530" y="326.9" text-anchor="middle" font-size="5.06" font-weight="bold" textLength="52" lengthAdjust="spacingAndGlyphs">Antimicrobial Peptide</text>
<text transform="translate(346,180.7) scale(0.8,1)" font-size="12.6" stroke="#111" stroke-width="0.55">D.</text>
</svg></body></html>
